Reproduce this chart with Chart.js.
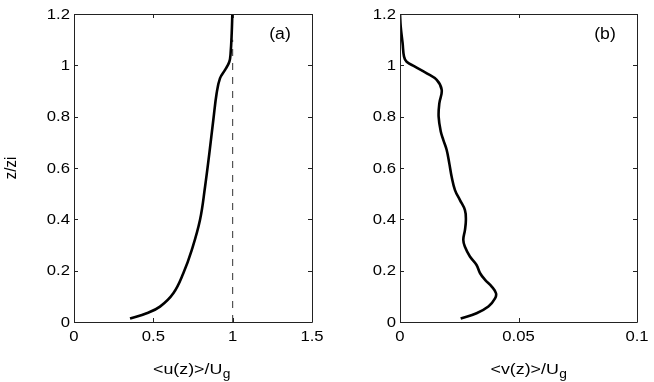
<!DOCTYPE html>
<html>
<head>
<meta charset="utf-8">
<script src="https://cdn.jsdelivr.net/npm/chart.js@4/dist/chart.umd.min.js"></script>
<style>
  html, body { margin: 0; padding: 0; background: #fff; }
  #wrap { position: relative; width: 654px; height: 382px; background: #fff; }
  canvas { position: absolute; top: 0; }
</style>
</head>
<body>
<div id="wrap">
  <canvas id="c1" width="327" height="382" style="left:0px"></canvas>
  <canvas id="c2" width="327" height="382" style="left:327px"></canvas>
</div>
<script>
// ---- data ----
const zTicks = [0, 0.2, 0.4, 0.6, 0.8, 1, 1.2];
const zTickLabels = ['0', '0.2', '0.4', '0.6', '0.8', '1', '1.2'];
const uTicks = [0, 0.5, 1, 1.5];
const uTickLabels = ['0', '0.5', '1', '1.5'];
const vTicks = [0, 0.05, 0.1];
const vTickLabels = ['0', '0.05', '0.1'];

// panel (a): mean u / Ug versus z/zi
const uValues = [0.353, 0.458, 0.542, 0.626, 0.689, 0.742, 0.794, 0.826, 0.853, 0.878, 0.899, 0.920, 0.952, 0.979, 0.987, 0.994, 0.998];
const uHeights = [0.014, 0.034, 0.060, 0.112, 0.190, 0.280, 0.397, 0.527, 0.657, 0.787, 0.891, 0.949, 0.982, 1.014, 1.047, 1.125, 1.200];

// reference line u/Ug = 1
const refU = [1, 1];
const refHeights = [0, 1.1];

// panel (b): mean v / Ug versus z/zi
const vValues = [0.0256, 0.0323, 0.0373, 0.0401, 0.0405, 0.0387, 0.0359, 0.0338, 0.0323, 0.0295, 0.0274, 0.0267, 0.0274, 0.0278, 0.0274, 0.0253, 0.0232, 0.0218, 0.0208, 0.0197, 0.0183, 0.0172, 0.0163, 0.0166, 0.0176, 0.0155, 0.0113, 0.0063, 0.0028, 0.0017, 0.0011, 0.0003, 0.0000];
const vHeights = [0.014, 0.034, 0.060, 0.092, 0.112, 0.138, 0.164, 0.190, 0.222, 0.255, 0.293, 0.320, 0.358, 0.397, 0.436, 0.475, 0.514, 0.566, 0.618, 0.670, 0.709, 0.742, 0.800, 0.852, 0.904, 0.943, 0.969, 0.995, 1.014, 1.034, 1.086, 1.151, 1.200];

const FONT = '"Liberation Sans", Arial, Helvetica, sans-serif';
const SX = 1.15; // horizontal stretch of the reference lettering

function pts(xs, ys) { return xs.map((x, i) => ({ x: x, y: ys[i] })); }

function txt(ctx, s, x, y, size, align, base, sx) {
  ctx.save();
  ctx.translate(x, y);
  ctx.scale(sx, 1);
  ctx.font = size + 'px ' + FONT;
  ctx.textAlign = align;
  ctx.textBaseline = base;
  ctx.fillText(s, 0, 0);
  ctx.restore();
}

function framePlugin(opts) {
  return {
    id: 'frame',
    afterDraw(chart) {
      const ctx = chart.ctx;
      const a = chart.chartArea;
      const xs = chart.scales.x, ys = chart.scales.y;
      ctx.save();
      ctx.strokeStyle = '#222';
      ctx.lineWidth = 1;
      ctx.beginPath();
      ctx.rect(Math.round(a.left) + 0.5, Math.round(a.top) + 0.5, Math.round(a.right - a.left), Math.round(a.bottom - a.top));
      ctx.stroke();
      const L = 4;
      ctx.beginPath();
      xs.ticks.forEach(t => {
        const px = Math.round(xs.getPixelForValue(t.value)) + 0.5;
        ctx.moveTo(px, a.bottom); ctx.lineTo(px, a.bottom - L);
        ctx.moveTo(px, a.top); ctx.lineTo(px, a.top + L);
      });
      ys.ticks.forEach(t => {
        const py = Math.round(ys.getPixelForValue(t.value)) + 0.5;
        ctx.moveTo(a.left, py); ctx.lineTo(a.left + L, py);
        ctx.moveTo(a.right, py); ctx.lineTo(a.right - L, py);
      });
      ctx.stroke();

      ctx.fillStyle = '#000';
      // tick labels
      xs.ticks.forEach((t, i) => {
        txt(ctx, opts.xLabels[i], xs.getPixelForValue(t.value), a.bottom + 14.5, 14.5, 'center', 'middle', SX);
      });
      ys.ticks.forEach((t, i) => {
        txt(ctx, zTickLabels[i], a.left - 4, ys.getPixelForValue(t.value) + 0.5, 14.5, 'right', 'middle', SX);
      });

      // panel tag
      txt(ctx, opts.tag, opts.tagX, 35, 16, 'center', 'middle', 1.1);

      // x title with subscript
      ctx.font = '15.5px ' + FONT;
      const wMain = ctx.measureText(opts.xTitle).width * SX;
      ctx.font = '12px ' + FONT;
      const wSub = ctx.measureText('g').width * SX;
      const start = opts.xTitleCx - (wMain + wSub) / 2;
      txt(ctx, opts.xTitle, start, 374, 15.5, 'left', 'alphabetic', SX);
      txt(ctx, 'g', start + wMain + 0.5, 378, 12, 'left', 'alphabetic', SX);

      // y title
      if (opts.yTitle) {
        ctx.save();
        ctx.translate(11, (a.top + a.bottom) / 2);
        ctx.rotate(-Math.PI / 2);
        ctx.scale(1, SX);
        ctx.font = '15px ' + FONT;
        ctx.textAlign = 'center';
        ctx.textBaseline = 'middle';
        ctx.fillText(opts.yTitle, 0, 0);
        ctx.restore();
      }
      ctx.restore();
    }
  };
}

function makeChart(id, datasets, xMax, xTickVals, yAxisW, rightPad, plugOpts) {
  return new Chart(document.getElementById(id), {
    type: 'scatter',
    data: { datasets: datasets },
    options: {
      responsive: false,
      animation: false,
      events: [],
      layout: { padding: { left: 0, right: rightPad, top: 14, bottom: 0 } },
      plugins: { legend: { display: false }, tooltip: { enabled: false } },
      elements: { point: { radius: 0 } },
      scales: {
        x: {
          type: 'linear', min: 0, max: xMax,
          afterBuildTicks: s => { s.ticks = xTickVals.map(v => ({ value: v })); },
          afterFit: s => { s.height = 60; },
          grid: { display: false, drawTicks: false },
          border: { display: false },
          ticks: { display: false }
        },
        y: {
          type: 'linear', min: 0, max: 1.2,
          afterBuildTicks: s => { s.ticks = zTicks.map(v => ({ value: v })); },
          afterFit: s => { s.width = yAxisW; },
          grid: { display: false, drawTicks: false },
          border: { display: false },
          ticks: { display: false }
        }
      }
    },
    plugins: [framePlugin(plugOpts)]
  });
}

makeChart('c1', [
  { data: pts(uValues, uHeights), showLine: true, borderColor: '#000', borderWidth: 2.6, tension: 0.4, fill: false },
  { data: pts(refU, refHeights), showLine: true, borderColor: '#333', borderWidth: 1, borderDash: [7, 7], tension: 0, fill: false }
], 1.5, uTicks, 74, 15, { tag: '(a)', tagX: 280, xTitle: '<u(z)>/U', xTitleCx: 191.5, xLabels: uTickLabels, yTitle: 'z/zi' });

makeChart('c2', [
  { data: pts(vValues, vHeights), showLine: true, borderColor: '#000', borderWidth: 2.6, tension: 0.4, fill: false }
], 0.1, vTicks, 73, 17, { tag: '(b)', tagX: 605 - 327, xTitle: '<v(z)>/U', xTitleCx: 528.5 - 327, xLabels: vTickLabels, yTitle: null });
</script>
</body>
</html>
